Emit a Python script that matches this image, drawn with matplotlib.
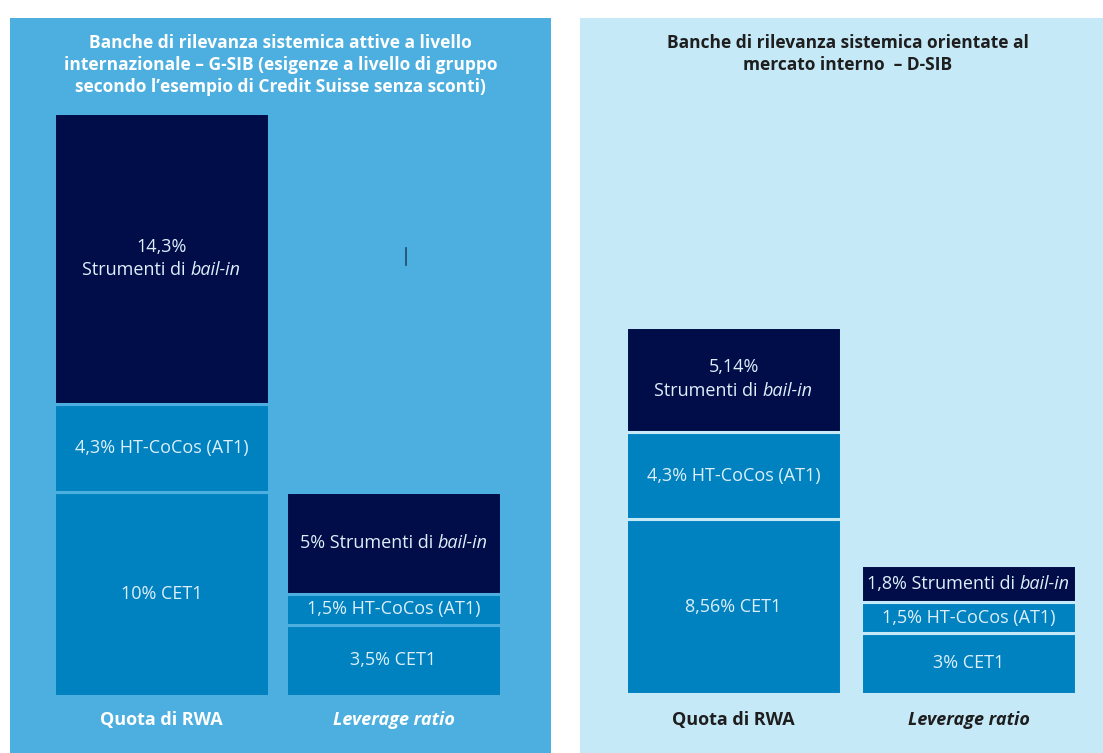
"""
Requisiti patrimoniali too-big-to-fail: G-SIB vs D-SIB
"""
import matplotlib
matplotlib.use('Agg')
import matplotlib.pyplot as plt
from matplotlib.transforms import offset_copy
from matplotlib.lines import Line2D

plt.rcParams['font.family'] = ['Open Sans', 'DejaVu Sans']

# ============================================================
# Dati
# ============================================================
categories = ['Quota di RWA', 'Leverage ratio']

gsib_cet1 = [10, 3.5]
gsib_cocos = [4.3, 1.5]
gsib_bailin = [14.3, 5]

dsib_cet1 = [8.56, 3]
dsib_cocos = [4.3, 1.5]
dsib_bailin = [5.14, 1.8]

title_gsib = ('Banche di rilevanza sistemica attive a livello\n'
              'internazionale – G-SIB (esigenze a livello di gruppo\n'
              'secondo l’esempio di Credit Suisse senza sconti)')
title_dsib = ('Banche di rilevanza sistemica orientate al\n'
              'mercato interno  – D-SIB')

# ============================================================
# Stile
# ============================================================
W, H, DPI = 1103, 753, 100
PX_PER_PCT = 20.4

C_DARK = '#000D48'
C_MID = '#0082C0'
C_LABEL = '#DDEFFA'
BG_LEFT = '#4DAFDF'
BG_RIGHT = '#C6E9F8'

fig = plt.figure(figsize=(W / DPI, H / DPI), dpi=DPI)
fig.patch.set_facecolor('white')
renderer = fig.canvas.get_renderer()


def fmt(v):
    return f'{v:g}'.replace('.', ',')


def px_axes(x0, y0, x1, y1):
    return fig.add_axes([x0 / W, 1 - y1 / H, (x1 - x0) / W, (y1 - y0) / H])


def mixed_text(ax, x, y, parts, dy_px=0, **kw):
    """Testo centrato composto da pezzi normali/corsivi."""
    texts = [ax.text(x, y, s, ha='left', va='center', style=st, **kw) for s, st in parts]
    widths = [t.get_window_extent(renderer).width for t in texts]
    xoff = -sum(widths) / 2
    for t, w in zip(texts, widths):
        t.set_transform(offset_copy(ax.transData, fig=fig, x=xoff * 72 / DPI,
                                    y=dy_px * 72 / DPI, units='points'))
        xoff += w


def draw_panel(ax, cet1, cocos, bailin, bg, left_px, spacing, bar_px, base_px, ax_h):
    ax.set_facecolor(bg)
    ymin = -base_px / PX_PER_PCT
    ax.set_ylim(ymin, ymin + ax_h / PX_PER_PCT)
    ax_w = ax.get_position().width * W
    ax.set_xlim(-left_px / spacing, (ax_w - left_px) / spacing)
    for s in ax.spines.values():
        s.set_visible(False)
    ax.set_xticks([]); ax.set_yticks([])

    x = list(range(len(categories)))
    width = bar_px / spacing
    bottoms2 = [a + b for a, b in zip(cet1, cocos)]
    kw = dict(width=width, edgecolor=bg, linewidth=2.2)
    ax.bar(x, cet1, color=C_MID, **kw)
    ax.bar(x, cocos, bottom=cet1, color=C_MID, **kw)
    ax.bar(x, bailin, bottom=bottoms2, color=C_DARK, **kw)

    tk = dict(color=C_LABEL, fontsize=13)
    for i in x:
        ax.text(i, cet1[i] / 2, f'{fmt(cet1[i])}% CET1', ha='center', va='center', **tk)
        ax.text(i, cet1[i] + cocos[i] / 2, f'{fmt(cocos[i])}% HT-CoCos (AT1)',
                ha='center', va='center', **tk)
        yb = bottoms2[i] + bailin[i] / 2
        if i == 0:
            ax.text(i, yb, f'{fmt(bailin[i])}%', ha='center', va='center',
                    transform=offset_copy(ax.transData, fig=fig, y=8.5, units='points'), **tk)
            mixed_text(ax, i, yb, [('Strumenti di ', 'normal'), ('bail-in', 'italic')],
                       dy_px=-12, **tk)
        else:
            mixed_text(ax, i, yb, [(f'{fmt(bailin[i])}% Strumenti di ', 'normal'),
                                   ('bail-in', 'italic')], **tk)


# Pannello sinistro: G-SIB
ax1 = px_axes(10, 18, 551, 753)
draw_panel(ax1, gsib_cet1, gsib_cocos, gsib_bailin, BG_LEFT, 151.5, 232, 215, 57, 735)

# Pannello destro: D-SIB
ax2 = px_axes(580, 18, 1103, 753)
draw_panel(ax2, dsib_cet1, dsib_cocos, dsib_bailin, BG_RIGHT, 153.5, 235, 215, 59, 735)

# Titoli
fig.text(280.5 / W, 1 - 65 / H, title_gsib, ha='center', va='center', color='white',
         fontsize=12.5, fontweight='bold', linespacing=1.25)
fig.text(848 / W, 1 - 54 / H, title_dsib, ha='center', va='center', color='#1E1E1E',
         fontsize=12.5, fontweight='bold', linespacing=1.25)

# Etichette categorie
for ax, col in [(ax1, 'white'), (ax2, '#1E1E1E')]:
    y_lab = ax.get_ylim()[0] + (753 - 720) / PX_PER_PCT
    ax.text(0, y_lab, categories[0], ha='center', va='center', color=col,
            fontsize=13, fontweight='bold')
    ax.text(1, y_lab, categories[1], ha='center', va='center', color=col,
            fontsize=13, fontweight='bold', style='italic')

# Piccolo segno verticale presente nell'originale
fig.add_artist(Line2D([406 / W, 406 / W], [1 - 248 / H, 1 - 265 / H],
                      color='#1F4A66', linewidth=1.2))

plt.savefig('out.png', dpi=DPI)
plt.close()
